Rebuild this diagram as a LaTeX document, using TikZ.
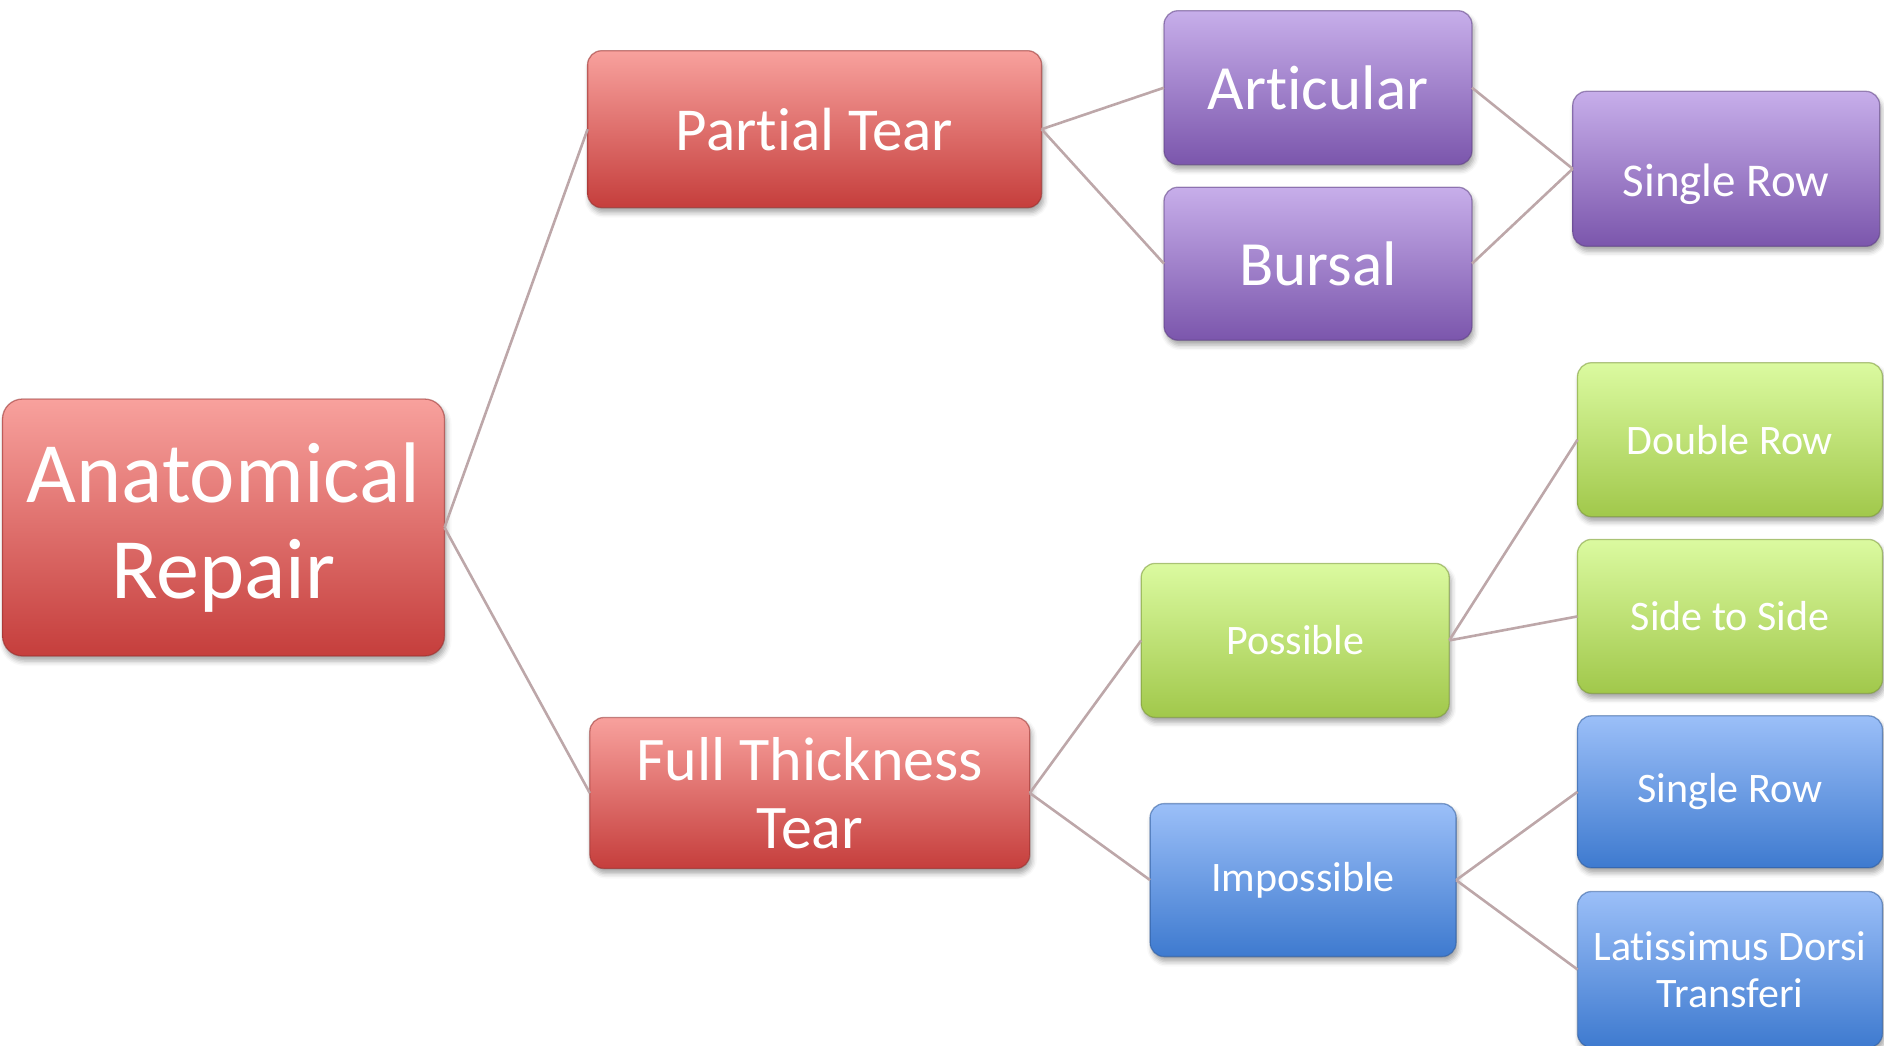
\documentclass[tikz,border=0pt]{standalone}
\usepackage{fontspec}
\setmainfont[Ligatures={NoCommon}]{Carlito}
\usetikzlibrary{shadings,shadows.blur}
\definecolor{redTop}{HTML}{F8A19D}
\definecolor{redMid}{HTML}{E47270}
\definecolor{redBot}{HTML}{C53E3C}
\definecolor{purTop}{HTML}{C7AEEA}
\definecolor{purMid}{HTML}{A384D2}
\definecolor{purBot}{HTML}{7B56AC}
\definecolor{grnTop}{HTML}{DBFAA0}
\definecolor{grnMid}{HTML}{C2E57A}
\definecolor{grnBot}{HTML}{A1C84B}
\definecolor{bluTop}{HTML}{9BBFF8}
\definecolor{bluMid}{HTML}{6D9CE6}
\definecolor{bluBot}{HTML}{3E7ACF}
\definecolor{linkCol}{HTML}{BDA7A9}
\tikzset{
  box/.style={rounded corners=14pt, draw=#1Bot!75!black, draw opacity=0.55, line width=1.3pt,
    top color=#1Top, middle color=#1Mid, bottom color=#1Bot, text=white, align=center,
    inner sep=0pt, outer sep=0pt,
    blur shadow={shadow xshift=2pt, shadow yshift=-5pt, shadow blur radius=5pt, shadow opacity=35}},
  link/.style={draw=linkCol, line width=2.6pt},
}
\begin{document}
\begin{tikzpicture}[x=1pt,y=-1pt]
\useasboundingbox (0,0) rectangle (1884,1045);
% level 0
\node[box=red, minimum width=442pt, minimum height=257pt, rounded corners=20pt,
  font={\fontsize{86}{96}\selectfont}] (ar) at (223.5,527.5) {Anatomical\\Repair};
% level 1
\node[box=red, minimum width=454pt, minimum height=157pt,
  font={\fontsize{61}{68}\selectfont}] (pt) at (814.6,129.2) {Partial Tear};
\node[box=red, minimum width=440pt, minimum height=151pt,
  font={\fontsize{62}{68}\selectfont}] (ftt) at (809.8,793) {Full Thickness\\Tear};
% level 2
\node[box=pur, minimum width=308pt, minimum height=154pt,
  font={\fontsize{63}{68}\selectfont}] (art) at (1318,87.7) {Articular};
\node[box=pur, minimum width=308pt, minimum height=153pt,
  font={\fontsize{63}{68}\selectfont}] (bur) at (1318,263.7) {Bursal};
\node[box=grn, minimum width=308pt, minimum height=154pt,
  font={\fontsize{42}{47}\selectfont}] (pos) at (1295.2,640.4) {Possible};
\node[box=blu, minimum width=306pt, minimum height=153pt,
  font={\fontsize{42}{47}\selectfont}] (imp) at (1303.1,880.1) {Impossible};
% level 3
\node[box=pur, minimum width=307pt, minimum height=155pt, text height=66pt, text depth=10pt,
  font={\fontsize{47}{52}\selectfont}] (srp) at (1726.2,168.8) {Single Row};
\node[box=grn, minimum width=305pt, minimum height=154pt,
  font={\fontsize{42}{47}\selectfont}] (dr) at (1730,439.7) {Double Row};
\node[box=grn, minimum width=305pt, minimum height=154pt,
  font={\fontsize{42}{47}\selectfont}] (sts) at (1730,616.4) {Side to Side};
\node[box=blu, minimum width=305pt, minimum height=152pt,
  font={\fontsize{42}{47}\selectfont}] (srb) at (1730,791.8) {Single Row};
\node[box=blu, minimum width=305pt, minimum height=156pt,
  font={\fontsize{42}{47}\selectfont}] (lat) at (1730,969.5) {Latissimus Dorsi\\Transferi};
% connectors
\draw[link] (ar.east) -- (pt.west);
\draw[link] (ar.east) -- (ftt.west);
\draw[link] (pt.east) -- (art.west);
\draw[link] (pt.east) -- (bur.west);
\draw[link] (art.east) -- (srp.west);
\draw[link] (bur.east) -- (srp.west);
\draw[link] (ftt.east) -- (pos.west);
\draw[link] (ftt.east) -- (imp.west);
\draw[link] (pos.east) -- (dr.west);
\draw[link] (pos.east) -- (sts.west);
\draw[link] (imp.east) -- (srb.west);
\draw[link] (imp.east) -- (lat.west);
\end{tikzpicture}
\end{document}
